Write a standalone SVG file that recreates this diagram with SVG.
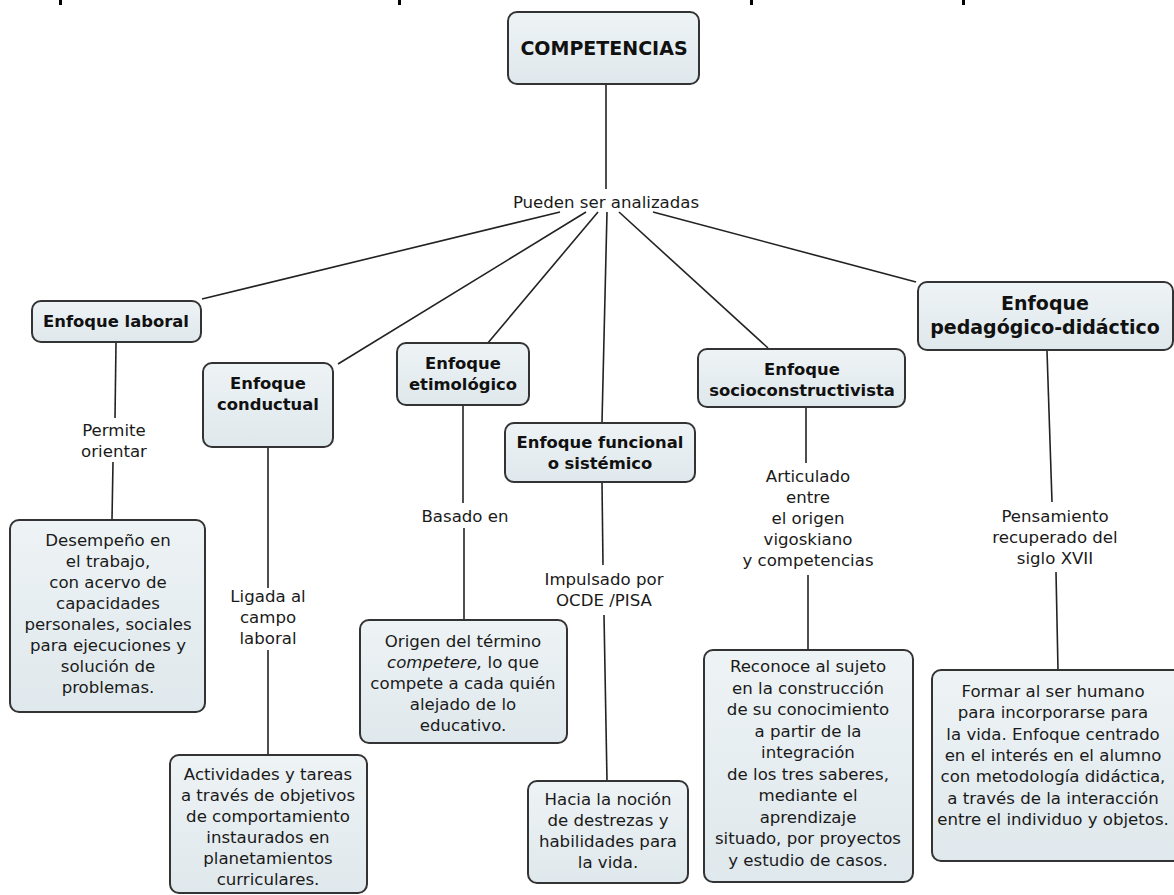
<svg xmlns="http://www.w3.org/2000/svg" width="1174" height="895" viewBox="0 0 1174 895">
  <defs>
    <linearGradient id="boxFill" x1="0" y1="0" x2="0" y2="1">
      <stop offset="0" stop-color="#eef3f5"/>
      <stop offset="1" stop-color="#dfe8ec"/>
    </linearGradient>
    <style>
      .box { fill: url(#boxFill); stroke: #333; stroke-width: 2; }
      .title { font-family: "DejaVu Sans", Verdana, sans-serif; font-weight: bold; font-size: 16.4px; fill: #111; text-anchor: middle; }
      .big { font-size: 19px; }
      .txt { font-family: "DejaVu Sans", Verdana, sans-serif; font-size: 16.6px; fill: #1a1a1a; text-anchor: middle; }
      .links line { stroke: #222; stroke-width: 1.6; }
      .tick { fill: #000; }
    </style>
  </defs>

  <rect width="1174" height="895" fill="#fff"/>

  <!-- clipped descenders along the top edge -->
  <rect class="tick" x="59" y="0" width="3" height="5"/>
  <rect class="tick" x="398" y="0" width="3" height="5"/>
  <rect class="tick" x="750" y="0" width="3" height="5"/>
  <rect class="tick" x="962" y="0" width="3" height="5"/>

  <!-- connectors -->
  <g id="connectors" class="links">
    <line x1="606" y1="85" x2="606" y2="189"/>
    <line x1="560" y1="212" x2="202" y2="299"/>
    <line x1="586" y1="212" x2="338" y2="364"/>
    <line x1="598" y1="212" x2="487" y2="344"/>
    <line x1="607" y1="212" x2="602" y2="422"/>
    <line x1="619" y1="212" x2="768" y2="348"/>
    <line x1="653" y1="212" x2="916" y2="282"/>

    <line x1="116" y1="343" x2="115" y2="418"/>
    <line x1="113" y1="462" x2="112" y2="520"/>

    <line x1="268" y1="448" x2="268" y2="588"/>
    <line x1="268" y1="650" x2="268" y2="755"/>

    <line x1="463" y1="406" x2="463" y2="503"/>
    <line x1="464" y1="528" x2="464" y2="619"/>

    <line x1="602" y1="483" x2="603" y2="565"/>
    <line x1="604" y1="615" x2="607" y2="781"/>

    <line x1="806" y1="408" x2="806" y2="463"/>
    <line x1="808" y1="575" x2="808" y2="650"/>

    <line x1="1047" y1="351" x2="1052" y2="502"/>
    <line x1="1056" y1="572" x2="1058" y2="670"/>
  </g>

  <!-- linking phrases -->
  <g id="labels">
    <text class="txt" x="606" y="208">Pueden ser analizadas</text>
    <text class="txt" x="114" y="436">Permite</text>
    <text class="txt" x="114" y="457">orientar</text>
    <text class="txt" x="268" y="602">Ligada al</text>
    <text class="txt" x="268" y="623">campo</text>
    <text class="txt" x="268" y="644">laboral</text>
    <text class="txt" x="465" y="522">Basado en</text>
    <text class="txt" x="604" y="585">Impulsado por</text>
    <text class="txt" x="604" y="606">OCDE /PISA</text>
    <text class="txt" x="808" y="482">Articulado</text>
    <text class="txt" x="808" y="503">entre</text>
    <text class="txt" x="808" y="524">el origen</text>
    <text class="txt" x="808" y="545">vigoskiano</text>
    <text class="txt" x="808" y="566">y competencias</text>
    <text class="txt" x="1055" y="522">Pensamiento</text>
    <text class="txt" x="1055" y="543">recuperado del</text>
    <text class="txt" x="1055" y="564">siglo XVII</text>
  </g>

  <!-- concepts -->
  <g id="competencias">
    <rect class="box" x="508" y="12" width="191" height="72" rx="9"/>
    <text class="title big" x="604" y="55">COMPETENCIAS</text>
  </g>

  <g id="enfoque-laboral">
    <rect class="box" x="32" y="301" width="169" height="41" rx="9"/>
    <text class="title" x="116" y="327">Enfoque laboral</text>
  </g>

  <g id="enfoque-conductual">
    <rect class="box" x="203" y="363" width="130" height="84" rx="9"/>
    <text class="title" x="268" y="389">Enfoque</text>
    <text class="title" x="268" y="410">conductual</text>
  </g>

  <g id="enfoque-etimologico">
    <rect class="box" x="397" y="343" width="132" height="62" rx="9"/>
    <text class="title" x="463" y="369">Enfoque</text>
    <text class="title" x="463" y="390">etimológico</text>
  </g>

  <g id="enfoque-funcional">
    <rect class="box" x="505" y="423" width="190" height="59" rx="9"/>
    <text class="title" x="600" y="448">Enfoque funcional</text>
    <text class="title" x="600" y="469">o sistémico</text>
  </g>

  <g id="enfoque-socioconstructivista">
    <rect class="box" x="698" y="349" width="207" height="58" rx="9"/>
    <text class="title" x="802" y="375">Enfoque</text>
    <text class="title" x="802" y="396">socioconstructivista</text>
  </g>

  <g id="enfoque-pedagogico">
    <rect class="box" x="918" y="282" width="255" height="68" rx="9"/>
    <text class="title big" x="1045" y="310">Enfoque</text>
    <text class="title big" x="1045" y="334">pedagógico-didáctico</text>
  </g>

  <g id="desempeno">
    <rect class="box" x="10" y="520" width="195" height="192" rx="9"/>
    <text class="txt" x="108" y="546">Desempeño en</text>
    <text class="txt" x="108" y="567">el trabajo,</text>
    <text class="txt" x="108" y="588">con acervo de</text>
    <text class="txt" x="108" y="609">capacidades</text>
    <text class="txt" x="108" y="630">personales, sociales</text>
    <text class="txt" x="108" y="651">para ejecuciones y</text>
    <text class="txt" x="108" y="672">solución de</text>
    <text class="txt" x="108" y="693">problemas.</text>
  </g>

  <g id="actividades">
    <rect class="box" x="170" y="755" width="197" height="138" rx="9"/>
    <text class="txt" x="268" y="780">Actividades y tareas</text>
    <text class="txt" x="268" y="801">a través de objetivos</text>
    <text class="txt" x="268" y="822">de comportamiento</text>
    <text class="txt" x="268" y="843">instaurados en</text>
    <text class="txt" x="268" y="864">planetamientos</text>
    <text class="txt" x="268" y="885">curriculares.</text>
  </g>

  <g id="origen">
    <rect class="box" x="360" y="620" width="207" height="123" rx="9"/>
    <text class="txt" x="463" y="647">Origen del término</text>
    <text class="txt" x="463" y="668"><tspan font-style="italic">competere,</tspan>  lo que</text>
    <text class="txt" x="463" y="689">compete a cada quién</text>
    <text class="txt" x="463" y="710">alejado de lo</text>
    <text class="txt" x="463" y="731">educativo.</text>
  </g>

  <g id="hacia">
    <rect class="box" x="528" y="781" width="160" height="102" rx="9"/>
    <text class="txt" x="608" y="805">Hacia la noción</text>
    <text class="txt" x="608" y="826">de destrezas y</text>
    <text class="txt" x="608" y="847">habilidades para</text>
    <text class="txt" x="608" y="868">la vida.</text>
  </g>

  <g id="reconoce">
    <rect class="box" x="704" y="650" width="209" height="232" rx="9"/>
    <text class="txt" x="808" y="672">Reconoce al sujeto</text>
    <text class="txt" x="808" y="693.5">en la construcción</text>
    <text class="txt" x="808" y="715">de su conocimiento</text>
    <text class="txt" x="808" y="736.5">a partir de la</text>
    <text class="txt" x="808" y="758">integración</text>
    <text class="txt" x="808" y="779.5">de los tres saberes,</text>
    <text class="txt" x="808" y="801">mediante el</text>
    <text class="txt" x="808" y="822.5">aprendizaje</text>
    <text class="txt" x="808" y="844">situado, por proyectos</text>
    <text class="txt" x="808" y="865.5">y estudio de casos.</text>
  </g>

  <g id="formar">
    <rect class="box" x="932" y="670" width="252" height="191" rx="9"/>
    <text class="txt" x="1053" y="697">Formar al ser humano</text>
    <text class="txt" x="1053" y="718.3">para incorporarse para</text>
    <text class="txt" x="1053" y="739.6">la vida. Enfoque centrado</text>
    <text class="txt" x="1053" y="760.9">en el interés en el alumno</text>
    <text class="txt" x="1053" y="782.2">con metodología didáctica,</text>
    <text class="txt" x="1053" y="803.5">a través de la interacción</text>
    <text class="txt" x="1053" y="824.8">entre el individuo y objetos.</text>
  </g>
</svg>
